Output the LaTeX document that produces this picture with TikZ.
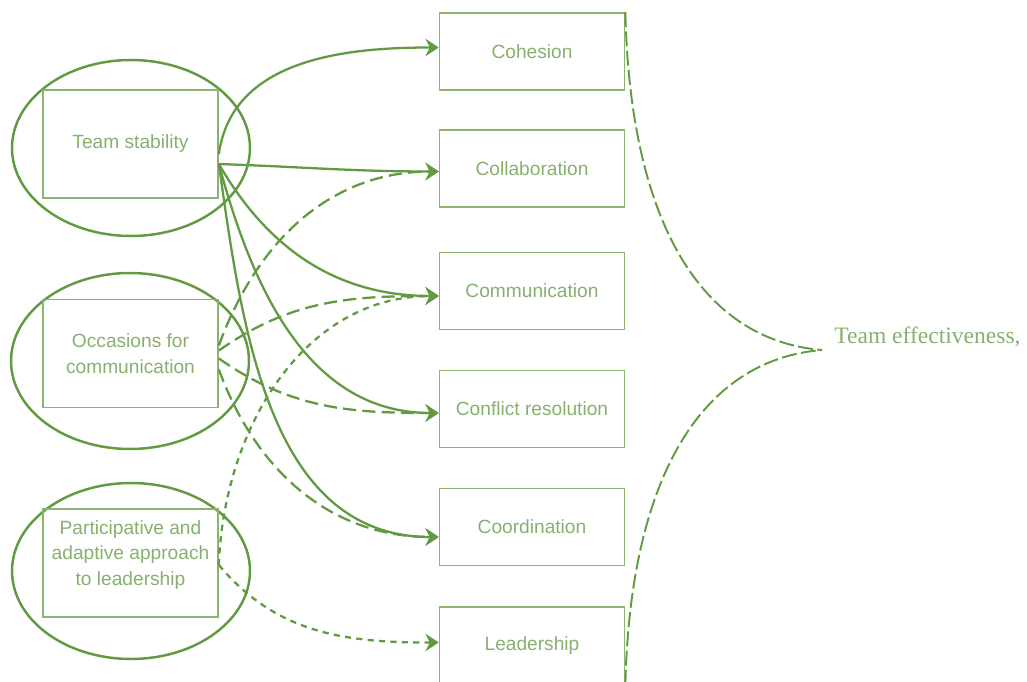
\documentclass[tikz,border=0pt]{standalone}
\usepackage{fontspec}
\setmainfont{Liberation Serif}
\setsansfont{Liberation Sans}
\usetikzlibrary{arrows.meta,shapes.geometric,calc}

\definecolor{linegreen}{RGB}{98,154,66}
\definecolor{boxgreen}{RGB}{138,180,112}
\definecolor{textgreen}{RGB}{134,176,110}

\tikzset{
  factor/.style={draw=boxgreen, line width=1pt, minimum width=3.5cm, minimum height=2.16cm,
    inner sep=1pt, align=center, text=textgreen, font=\sffamily\fontsize{10.9}{14.5}\selectfont},
  ring/.style={draw=linegreen, line width=1.4pt, ellipse, minimum width=4.76cm, minimum height=3.52cm, inner sep=0pt},
  outcome/.style={draw=boxgreen, line width=1pt, minimum width=3.7cm, minimum height=1.54cm,
    inner sep=1pt, text=textgreen, font=\sffamily\fontsize{10.9}{13}\selectfont},
  link/.style={draw=linegreen, line width=1.3pt, -{Stealth[length=7.5pt,width=10pt,inset=2.5pt]}},
  longdash/.style={dash pattern=on 7.5pt off 3.5pt},
  shortdash/.style={dash pattern=on 3.5pt off 3pt},
  merge/.style={draw=linegreen, line width=1.1pt, dash pattern=on 8.5pt off 2.5pt},
}

\begin{document}
\begin{tikzpicture}[x=0.02cm, y=-0.02cm]
\useasboundingbox (0,0) rectangle (1027,682);

% antecedents on the left
\node[ring] (tsring) at (131,148) {};
\node[ring] (ocring) at (130,361) {};
\node[ring] (paring) at (131,571) {};
\node[factor] (ts) at (130.5,144) {Team stability};
\node[factor] (oc) at (130.5,353.5) {Occasions for\\communication};
\node[factor] (pa) at (130.5,563) {Participative and\\adaptive approach\\to leadership\\[-3pt]};

% team processes in the middle column
\node[outcome] (coh) at (532,51.5) {Cohesion};
\node[outcome] (col) at (532,168.5) {Collaboration};
\node[outcome] (com) at (532,291) {Communication};
\node[outcome] (con) at (532,409) {Conflict resolution};
\node[outcome] (cor) at (532,527) {Coordination};
\node[outcome] (lea) at (532,645.5) {Leadership};

% outcome label
\node[anchor=base west, inner sep=0pt, text=textgreen, font=\fontsize{13.4}{16}\selectfont]
  (te) at (834,343) {Team effectiveness,};
\coordinate (join) at (822,350);

% team stability (solid)
\draw[link] ($(ts.east)+(0,10)$) to[out=82,in=180] ($(coh.west)+(0,-4)$);
\draw[link] ($(ts.east)+(0,20)$) to[out=-2,in=180] ($(col.west)+(0,3)$);
\draw[link] ($(ts.east)+(0,20)$) to[out=-60,in=180] ($(com.west)+(0,5)$);
\draw[link] ($(ts.east)+(0,20)$) to[out=-75,in=180] ($(con.west)+(0,4)$);
\draw[link] ($(ts.east)+(0,20)$) to[out=-82,in=180] ($(cor.west)+(0,10)$);

% occasions for communication (long dashes)
\draw[link,longdash] ($(oc.east)+(0,-8)$) to[out=70,in=180] ($(col.west)+(0,3)$);
\draw[link,longdash] ($(oc.east)+(0,-3)$) to[out=35,in=180] ($(com.west)+(0,5)$);
\draw[link,longdash] ($(oc.east)+(0,5)$) to[out=-35,in=180] ($(con.west)+(0,4)$);
\draw[link,longdash] ($(oc.east)+(0,16)$) to[out=-70,in=180] ($(cor.west)+(0,10)$);

% participative leadership (short dashes)
\draw[link,shortdash] ($(pa.east)+(0,2)$) to[out=88,in=180] ($(com.west)+(0,5)$);
\draw[link,shortdash] ($(pa.east)+(0,2)$) to[out=-50,in=180] ($(lea.west)+(0,-3)$);

% processes converging on team effectiveness
\draw[merge] (coh.north east) .. controls (630,220) and (700,340) .. (join);
\draw[merge] (lea.south east) .. controls (630,480) and (700,360) .. (join);
\end{tikzpicture}
\end{document}
